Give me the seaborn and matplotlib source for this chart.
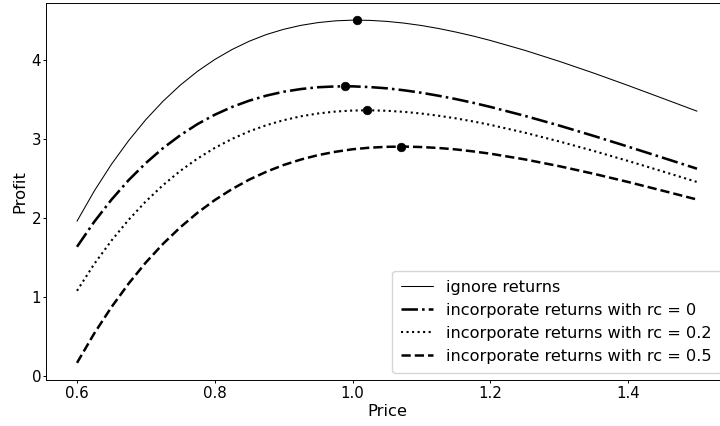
import matplotlib
matplotlib.use("Agg")
import matplotlib.pyplot as plt
import seaborn as sns
import pandas as pd

price = [0.600, 0.625, 0.650, 0.675, 0.700, 0.725, 0.750, 0.775, 0.800, 0.825,
         0.850, 0.875, 0.900, 0.925, 0.950, 0.975, 1.000, 1.025, 1.050, 1.075,
         1.100, 1.125, 1.150, 1.175, 1.200, 1.250, 1.300, 1.350, 1.400, 1.450, 1.500]

ignore_returns = [1.956, 2.337, 2.676, 2.976, 3.242, 3.475, 3.678, 3.853, 4.002, 4.128,
                  4.233, 4.318, 4.384, 4.434, 4.469, 4.491, 4.500, 4.497, 4.484, 4.462,
                  4.432, 4.394, 4.349, 4.299, 4.243, 4.118, 3.979, 3.830, 3.673, 3.511, 3.348]
rc_0 = [1.632, 1.948, 2.228, 2.476, 2.692, 2.881, 3.044, 3.185, 3.303, 3.401,
        3.481, 3.545, 3.594, 3.628, 3.651, 3.661, 3.662, 3.653, 3.637, 3.612,
        3.581, 3.543, 3.501, 3.454, 3.402, 3.289, 3.166, 3.035, 2.899, 2.760, 2.620]
rc_02 = [1.075, 1.414, 1.710, 1.974, 2.207, 2.413, 2.593, 2.749, 2.883, 2.997,
         3.093, 3.171, 3.234, 3.283, 3.319, 3.343, 3.356, 3.359, 3.353, 3.339,
         3.318, 3.290, 3.257, 3.218, 3.175, 3.076, 2.965, 2.845, 2.718, 2.586, 2.452]
rc_05 = [0.163, 0.535, 0.868, 1.167, 1.434, 1.670, 1.879, 2.063, 2.223, 2.362,
         2.482, 2.582, 2.667, 2.736, 2.792, 2.834, 2.866, 2.886, 2.897, 2.900,
         2.894, 2.882, 2.864, 2.839, 2.810, 2.738, 2.652, 2.556, 2.452, 2.342, 2.230]

opt_price = [1.0065, 0.989, 1.021, 1.070]
opt_profit = [4.500, 3.663, 3.359, 2.900]

labels = ["ignore returns", "incorporate returns with rc = 0",
          "incorporate returns with rc = 0.2", "incorporate returns with rc = 0.5"]

sns.set_style("ticks")
plt.rcParams["font.family"] = ["DejaVu Sans"]
plt.rcParams["axes.edgecolor"] = "black"
plt.rcParams["text.color"] = "black"
plt.rcParams["xtick.color"] = "black"
plt.rcParams["ytick.color"] = "black"
plt.rcParams["axes.labelcolor"] = "black"
plt.rcParams["xtick.major.size"] = 2.2
plt.rcParams["ytick.major.size"] = 2.2
plt.rcParams["xtick.major.pad"] = 1.8
plt.rcParams["ytick.major.pad"] = 1.3
plt.rcParams["xtick.major.width"] = 0.7
plt.rcParams["ytick.major.width"] = 0.7
plt.rcParams["axes.linewidth"] = 0.7

fig = plt.figure(figsize=(7.2, 4.26), dpi=100)
ax = fig.add_axes([46/720, 46/426, (728-46)/720, (380-3)/426])

series = [ignore_returns, rc_0, rc_02, rc_05]
styles = ["-", "-.", ":", "--"]
widths = [0.75, 1.85, 1.5, 1.8]
for vals, ls, lw, lab in zip(series, styles, widths, labels):
    df = pd.DataFrame({"Price": price, "Profit": vals})
    sns.lineplot(data=df, x="Price", y="Profit", ax=ax, color="black",
                 linestyle=ls, linewidth=lw, label=lab)

sns.scatterplot(x=opt_price, y=opt_profit, ax=ax, color="black", s=38,
                edgecolor="black", zorder=5, legend=False)

ax.set_xlabel("Price", fontsize=11.8, labelpad=2.4)
ax.set_ylabel("Profit", fontsize=11.8, labelpad=2.9)
ax.tick_params(labelsize=10.8)
ax.set_xticks([0.6, 0.8, 1.0, 1.2, 1.4])
ax.legend(loc="lower right", fontsize=11.6, borderaxespad=0.45, borderpad=0.55)

fig.savefig("out.png", dpi=100)
